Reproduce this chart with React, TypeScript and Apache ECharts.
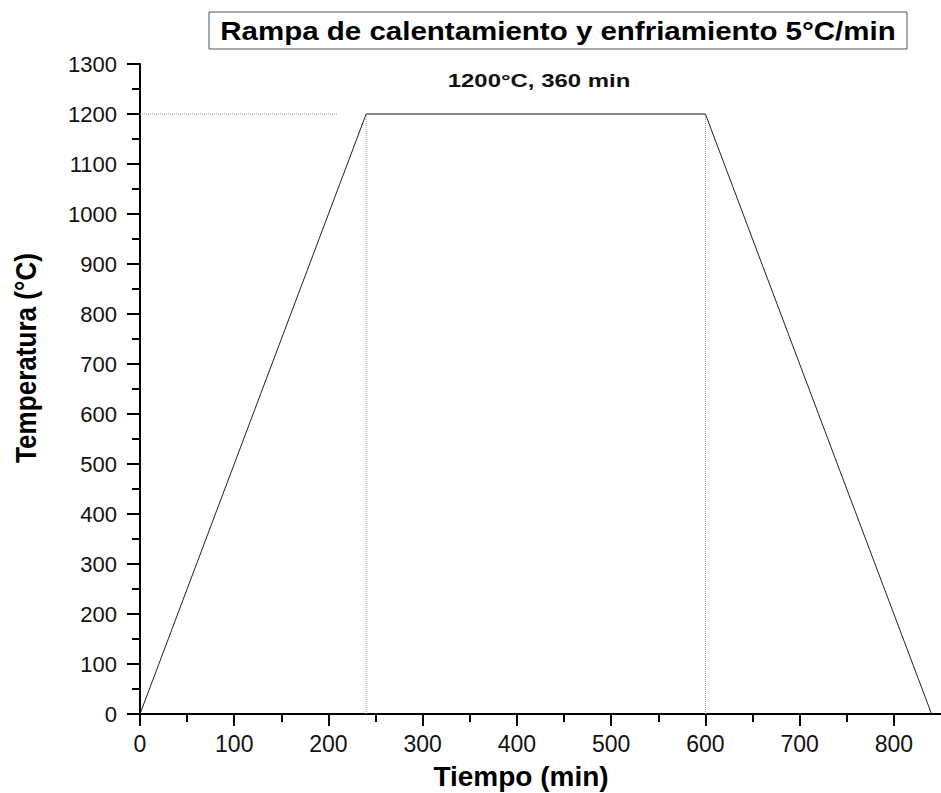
import React, { useEffect, useRef } from "react";
import * as echarts from "echarts";

// Data
const rampTime = [0, 240, 600, 840];
const rampTemp = [0, 1200, 1200, 0];
const plateauTime = [240, 600];
const plateauTemp = [1200, 1200];
const guideH = [[0, 1200], [210, 1200]];
const guideV1 = [[240, 0], [240, 1200]];
const guideV2 = [[600, 0], [600, 1200]];
const xMajorTicks = [0, 100, 200, 300, 400, 500, 600, 700, 800];
const xMinorTicks = [50, 150, 250, 350, 450, 550, 650, 750];
const titleText = "Rampa de calentamiento y enfriamiento 5°C/min";
const subtitleText = "1200°C, 360 min";
const xName = "Tiempo (min)";
const yName = "Temperatura (°C)";

const FONT = "'Liberation Sans', Arial, sans-serif";

export default function App() {
  const ref = useRef<HTMLDivElement>(null);
  useEffect(() => {
    if (!ref.current) return;
    const chart = echarts.init(ref.current, undefined, { renderer: "svg" });
    const dotted = {
      type: "line",
      symbol: "none",
      silent: true,
      lineStyle: { color: "#999", width: 1, type: "dotted" },
      z: 1,
    };
    const plain = (v: number) => String(v);
    const option: any = {
      animation: false,
      backgroundColor: "#fff",
      grid: { left: 140, top: 64, width: 804, height: 650, containLabel: false },
      xAxis: [
        {
          type: "value",
          min: 0,
          max: 850,
          interval: 100,
          axisLine: { show: true, onZero: false, lineStyle: { color: "#000", width: 2 } },
          axisTick: { show: true, length: 12, customValues: xMajorTicks, lineStyle: { color: "#000", width: 2 } },
          axisLabel: { customValues: xMajorTicks, formatter: plain, fontSize: 23, color: "#111", margin: 18, fontFamily: FONT },
          splitLine: { show: false },
        },
        {
          type: "value",
          min: 0,
          max: 850,
          interval: 50,
          position: "bottom",
          axisLine: { show: false },
          axisTick: { show: true, length: 8, customValues: xMinorTicks, lineStyle: { color: "#000", width: 2 } },
          axisLabel: { show: false },
          splitLine: { show: false },
        },
      ],
      yAxis: {
        type: "value",
        min: 0,
        max: 1300,
        interval: 100,
        axisLine: { show: true, onZero: false, lineStyle: { color: "#000", width: 2 } },
        axisTick: { show: true, length: 13, lineStyle: { color: "#000", width: 2 } },
        minorTick: { show: true, splitNumber: 2, length: 8, lineStyle: { color: "#000", width: 2 } },
        axisLabel: { formatter: plain, fontSize: 22, color: "#111", margin: 23, fontFamily: FONT },
        splitLine: { show: false },
      },
      series: [
        { ...dotted, data: guideH },
        { ...dotted, data: guideV1 },
        { ...dotted, data: guideV2 },
        {
          type: "line",
          symbol: "none",
          data: rampTime.map((t, i) => [t, rampTemp[i]]),
          lineStyle: { color: "#222", width: 1 },
          z: 3,
        },
        {
          type: "line",
          symbol: "none",
          data: plateauTime.map((t, i) => [t, plateauTemp[i]]),
          lineStyle: { color: "#8a8a8a", width: 2 },
          z: 4,
        },
      ],
      graphic: [
        {
          type: "rect",
          shape: { x: 209, y: 12, width: 698, height: 37 },
          style: { fill: "#fff", stroke: "#555", lineWidth: 1 },
          z: 10,
        },
        {
          type: "text",
          x: 558,
          y: 31,
          scaleX: 1.18,
          style: {
            text: titleText,
            fontSize: 25,
            fontWeight: "bold",
            fontFamily: FONT,
            fill: "#000",
            align: "center",
            verticalAlign: "middle",
          },
          z: 11,
        },
        {
          type: "text",
          x: 539,
          y: 80,
          scaleX: 1.26,
          style: {
            text: subtitleText,
            fontSize: 19,
            fontWeight: "bold",
            fontFamily: FONT,
            fill: "#111",
            align: "center",
            verticalAlign: "middle",
          },
          z: 11,
        },
        {
          type: "text",
          x: 521,
          y: 776,
          style: {
            text: xName,
            fontSize: 28,
            fontWeight: "bold",
            fontFamily: FONT,
            fill: "#000",
            align: "center",
            verticalAlign: "middle",
          },
          z: 11,
        },
        {
          type: "text",
          x: 26,
          y: 358,
          rotation: Math.PI / 2,
          scaleX: 0.9,
          style: {
            text: yName,
            fontSize: 29,
            fontWeight: "bold",
            fontFamily: FONT,
            fill: "#000",
            align: "center",
            verticalAlign: "middle",
          },
          z: 11,
        },
      ],
    };
    chart.setOption(option);
    return () => chart.dispose();
  }, []);
  return (
    <div
      ref={ref}
      style={{ position: "absolute", left: 0, top: 0, width: 941, height: 793 }}
    />
  );
}
